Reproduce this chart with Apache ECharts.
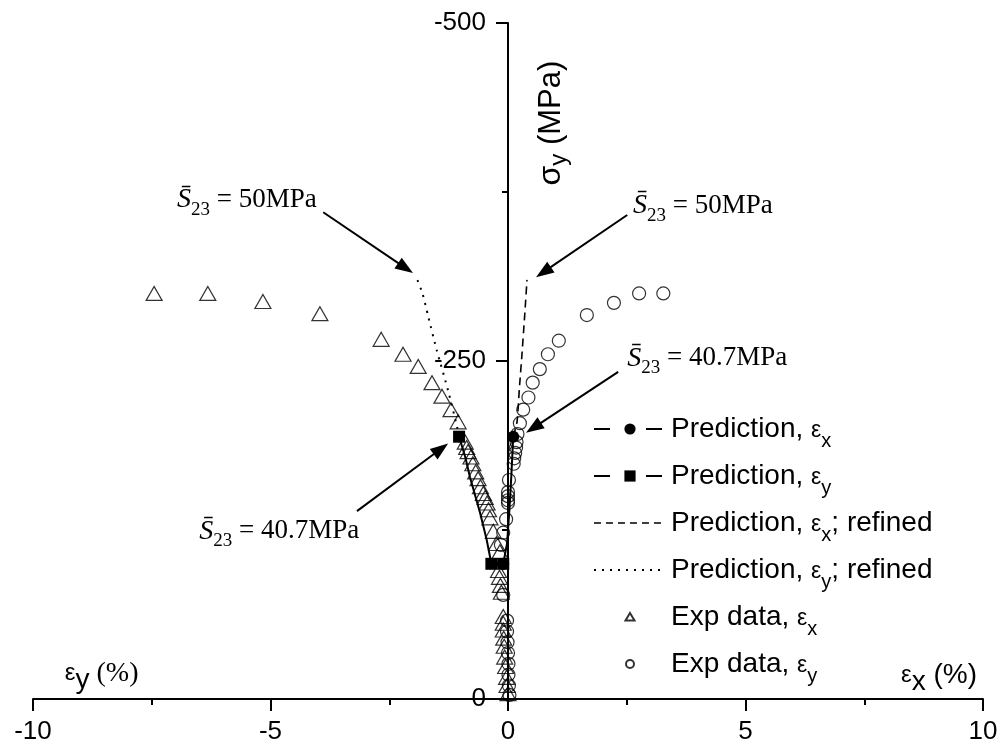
<!DOCTYPE html>
<html><head><meta charset="utf-8">
<script src="https://cdn.jsdelivr.net/npm/echarts@6/dist/echarts.min.js"></script>
<style>html,body{margin:0;padding:0;background:#fff}#c{width:999px;height:748px}</style>
</head><body><div id="c"></div>
<script>
// ---------- data ----------
const seriesNames = ['Prediction, εx', 'Prediction, εy', 'Prediction, εx; refined', 'Prediction, εy; refined', 'Exp data, εx', 'Exp data, εy'];
const xRange = [-10, 10];
const xStep = 5;
const yRange = [-500, 0];
const yStep = 250;

// [strain %, stress MPa]
const predictionEx = [[-0.10,-100],[-0.02,-115],[0.03,-140],[0.07,-165],[0.11,-194]];
const predictionEy = [[-0.10,-100],[-0.35,-100],[-0.45,-118],[-0.59,-138],[-0.80,-164],[-0.90,-179],[-1.03,-194]];
const refinedEx = [[0.11,-194],[0.19,-205],[0.24,-230],[0.29,-253],[0.35,-283],[0.40,-310]];
const refinedEy = [[-1.03,-194],[-1.07,-201],[-1.26,-228],[-1.50,-258],[-1.68,-283],[-1.80,-300],[-1.92,-311]];
const expEx = [[-7.45,-300],[-6.32,-300],[-5.16,-294],[-3.96,-285],[-2.67,-266],[-2.21,-255],[-1.89,-246],[-1.60,-234],[-1.39,-224],[-1.20,-214],[-1.05,-205],
  [-0.90,-190],[-0.87,-186],[-0.84,-183],[-0.78,-179],[-0.74,-174],[-0.68,-168],[-0.63,-163],[-0.58,-157],[-0.52,-152],[-0.48,-149],[-0.44,-145],[-0.41,-140],[-0.38,-134],[-0.31,-124],[-0.24,-115],[-0.17,-109],
  [-0.20,-95],[-0.18,-90],[-0.16,-84],[-0.14,-79],
  [-0.10,-61],[-0.10,-56],[-0.10,-51],[-0.09,-45],[-0.08,-39],[-0.07,-31],[-0.05,-24],[-0.03,-16],[-0.02,-10],[0.00,-4]];
const expEy = [[3.27,-300],[2.76,-300],[2.23,-293],[1.66,-284],[1.07,-265],[0.84,-255],[0.67,-244],[0.52,-234],[0.43,-223],[0.32,-214],[0.25,-204],
  [0.20,-196],[0.18,-190],[0.17,-186],[0.15,-182],[0.13,-178],[0.12,-174],
  [0.02,-162],[0.00,-153],[0.00,-150],[0.00,-147],[0.00,-145],[-0.04,-133],[-0.10,-123],[-0.15,-114],
  [-0.10,-77],
  [-0.02,-58],[-0.02,-50],[-0.01,-42],[0.00,-34],[0.01,-26],[0.01,-18],[0.02,-10],[0.03,-3]];

// annotations (data coordinates)
const annoValues = ['50MPa', '50MPa', '40.7MPa', '40.7MPa'];
const annoAt = [[-6.97,-369],[2.63,-365],[2.51,-252],[-6.50,-124]];
const arrowFrom = [[-3.89,-360],[2.51,-358],[2.32,-242],[-3.18,-139]];
const arrowTo = [[-2.00,-315],[0.59,-312],[0.38,-197],[-1.26,-189]];
const yNameAt = [0.905, -426];
const leftXNameAt = [-9.33, -19];

// ---------- chart ----------
const SANS = 'Liberation Sans';
const SERIF = 'Liberation Serif';
const chart = echarts.init(document.getElementById('c'), null, {renderer: 'canvas'});

const legendRich = {
  t: {fontFamily: SANS, fontSize: 28, lineHeight: 34, color: '#000'},
  e: {fontFamily: SANS, fontSize: 23, lineHeight: 34, padding: [4, 0, 0, 0], color: '#000'},
  s: {fontFamily: SANS, fontSize: 20, lineHeight: 34, padding: [24, 0, 0, 0], color: '#000'}
};
function legendFmt(name) {
  const m = name.match(/^(.*)ε([xy])(.*)$/);
  return '{t|' + m[1] + '}{e|ε}{s|' + m[2] + '}' + (m[3] ? '{t|' + m[3] + '}' : '');
}
const endsOnly = idxs => (v, p) => (idxs(p.dataIndex) ? 12 : 0);
const black = '#000';
const GRID_LEFT = 33;

const option = {
  animation: false,
  backgroundColor: '#fff',
  grid: {left: GRID_LEFT, right: 16, top: 23, bottom: 49, containLabel: false, outerBoundsMode: 'none'},
  xAxis: {
    type: 'value', min: xRange[0], max: xRange[1], interval: xStep,
    axisLine: {onZero: true, lineStyle: {color: black, width: 2}},
    axisTick: {show: true, length: 12, lineStyle: {color: black, width: 2}},
    minorTick: {show: true, splitNumber: 2, length: 6, lineStyle: {color: black, width: 2}},
    splitLine: {show: false},
    axisLabel: {fontFamily: SANS, fontSize: 26, color: black, margin: 20},
    name: '{e|ε}{s|x}{p| (%)}',
    nameLocation: 'end', nameGap: -6,
    nameTextStyle: {align: 'right', verticalAlign: 'bottom', padding: [0, 0, 8, 0],
      rich: {
        e: {fontFamily: SANS, fontSize: 24, lineHeight: 32, color: black},
        s: {fontFamily: SANS, fontSize: 28, lineHeight: 32, padding: [14, 0, 0, 0], color: black},
        p: {fontFamily: SANS, fontSize: 28, lineHeight: 32, color: black}
      }}
  },
  yAxis: {
    type: 'value', min: yRange[0], max: yRange[1], interval: yStep, inverse: true,
    position: 'left', offset: 0,
    axisLine: {onZero: false, lineStyle: {color: black, width: 2}},
    axisTick: {show: true, length: 12, lineStyle: {color: black, width: 2}},
    minorTick: {show: true, splitNumber: 2, length: 6, lineStyle: {color: black, width: 2}},
    splitLine: {show: false},
    axisLabel: {fontFamily: SANS, fontSize: 26, color: black, margin: 22}
  },
  legend: {
    orient: 'vertical', left: 588, top: 402, itemWidth: 72, itemHeight: 14, itemGap: 3,
    selectedMode: false,
    formatter: legendFmt,
    textStyle: {rich: legendRich},
    data: [
      {name: seriesNames[0], lineStyle: {type: [16, 36], width: 2}},
      {name: seriesNames[1], lineStyle: {type: [16, 36], width: 2}},
      {name: seriesNames[2], lineStyle: {type: [7, 5], width: 1.5}, itemStyle: {opacity: 0}},
      {name: seriesNames[3], lineStyle: {type: [2, 6], width: 1.8}, itemStyle: {opacity: 0}},
      {name: seriesNames[4], icon: 'path://M0,0M14,14M7,3L11.5,10.5L2.5,10.5Z'},
      {name: seriesNames[5], icon: 'path://M0,0M14,14M11,7A4,4,0,1,1,3,7A4,4,0,1,1,11,7Z'}
    ]
  },
  series: [
    {name: seriesNames[4], type: 'scatter', data: expEx, symbol: 'triangle', symbolSize: [16, 14],
      itemStyle: {color: 'rgba(0,0,0,0)', borderColor: black, borderWidth: 1.2}, z: 2},
    {name: seriesNames[5], type: 'scatter', data: expEy, symbol: 'circle', symbolSize: 13,
      itemStyle: {color: 'rgba(0,0,0,0)', borderColor: black, borderWidth: 1.2}, z: 2},
    {name: seriesNames[2], type: 'line', data: refinedEx, symbol: 'none', smooth: 0.2,
      lineStyle: {color: black, width: 1.6, type: [8, 5]}, itemStyle: {color: black}, z: 3},
    {name: seriesNames[3], type: 'line', data: refinedEy, symbol: 'none', smooth: 0.2,
      lineStyle: {color: black, width: 2, type: [2, 6]}, itemStyle: {color: black}, z: 3},
    {name: seriesNames[0], type: 'line', data: predictionEx, symbol: 'circle',
      symbolSize: endsOnly(i => i === 0 || i === predictionEx.length - 1),
      lineStyle: {color: black, width: 2}, itemStyle: {color: black}, z: 4},
    {name: seriesNames[1], type: 'line', data: predictionEy, symbol: 'rect',
      symbolSize: endsOnly(i => i <= 1 || i === predictionEy.length - 1),
      lineStyle: {color: black, width: 2}, itemStyle: {color: black}, z: 5}
  ]
};
chart.setOption(option);

const toPx = p => chart.convertToPixel({gridIndex: 0}, p);
// place the y axis (line, ticks and labels) on x = 0
const zeroX = toPx([0, yRange[1]])[0];
chart.setOption({yAxis: {offset: -(zeroX - GRID_LEFT)}});

// ---------- annotations (anchored to data coordinates) ----------
const graphics = [];
const annoRich = {
  S: {fontFamily: SERIF, fontStyle: 'italic', fontSize: 28, lineHeight: 40, color: black},
  b: {fontFamily: SERIF, fontSize: 19, lineHeight: 40, padding: [20, 0, 0, 0], color: black},
  t: {fontFamily: SERIF, fontSize: 27, lineHeight: 40, color: black}
};
annoValues.forEach((val, i) => {
  const p = toPx(annoAt[i]);
  graphics.push({type: 'text', x: p[0], y: p[1], z: 10,
    style: {text: '{S|S\u0304}{b|23}{t| = ' + val + '}', rich: annoRich, align: 'left', verticalAlign: 'middle'}});
  const a = toPx(arrowFrom[i]), b = toPx(arrowTo[i]);
  const dx = b[0] - a[0], dy = b[1] - a[1], len = Math.hypot(dx, dy);
  const ux = dx / len, uy = dy / len, hl = 18, hw = 6.5;
  const bx = b[0] - ux * hl, by = b[1] - uy * hl;
  graphics.push({type: 'line', z: 10, shape: {x1: a[0], y1: a[1], x2: bx + ux * 2, y2: by + uy * 2},
    style: {stroke: black, lineWidth: 2}});
  graphics.push({type: 'polygon', z: 10,
    shape: {points: [[b[0], b[1]], [bx - uy * hw, by + ux * hw], [bx + uy * hw, by - ux * hw]]},
    style: {fill: black}});
});
const yn = toPx(yNameAt);
graphics.push({type: 'text', x: yn[0], y: yn[1], rotation: Math.PI / 2, z: 10,
  style: {text: '{g|σ}{s|y}{t| (MPa)}', align: 'center', verticalAlign: 'middle',
    rich: {
      g: {fontFamily: SANS, fontSize: 32, lineHeight: 38, color: black},
      s: {fontFamily: SANS, fontSize: 24, lineHeight: 38, padding: [16, 0, 0, 0], color: black},
      t: {fontFamily: SANS, fontSize: 31, lineHeight: 38, color: black}
    }}});
const ln = toPx(leftXNameAt);
graphics.push({type: 'text', x: ln[0], y: ln[1], z: 10,
  style: {text: '{e|ε}{s|y}{p| (%)}', align: 'left', verticalAlign: 'middle',
    rich: {
      e: {fontFamily: SANS, fontSize: 24, lineHeight: 32, color: black},
      s: {fontFamily: SANS, fontSize: 28, lineHeight: 32, padding: [14, 0, 0, 0], color: black},
      p: {fontFamily: SERIF, fontSize: 28, lineHeight: 32, color: black}
    }}});
chart.setOption({graphic: graphics});
</script>
</body></html>
